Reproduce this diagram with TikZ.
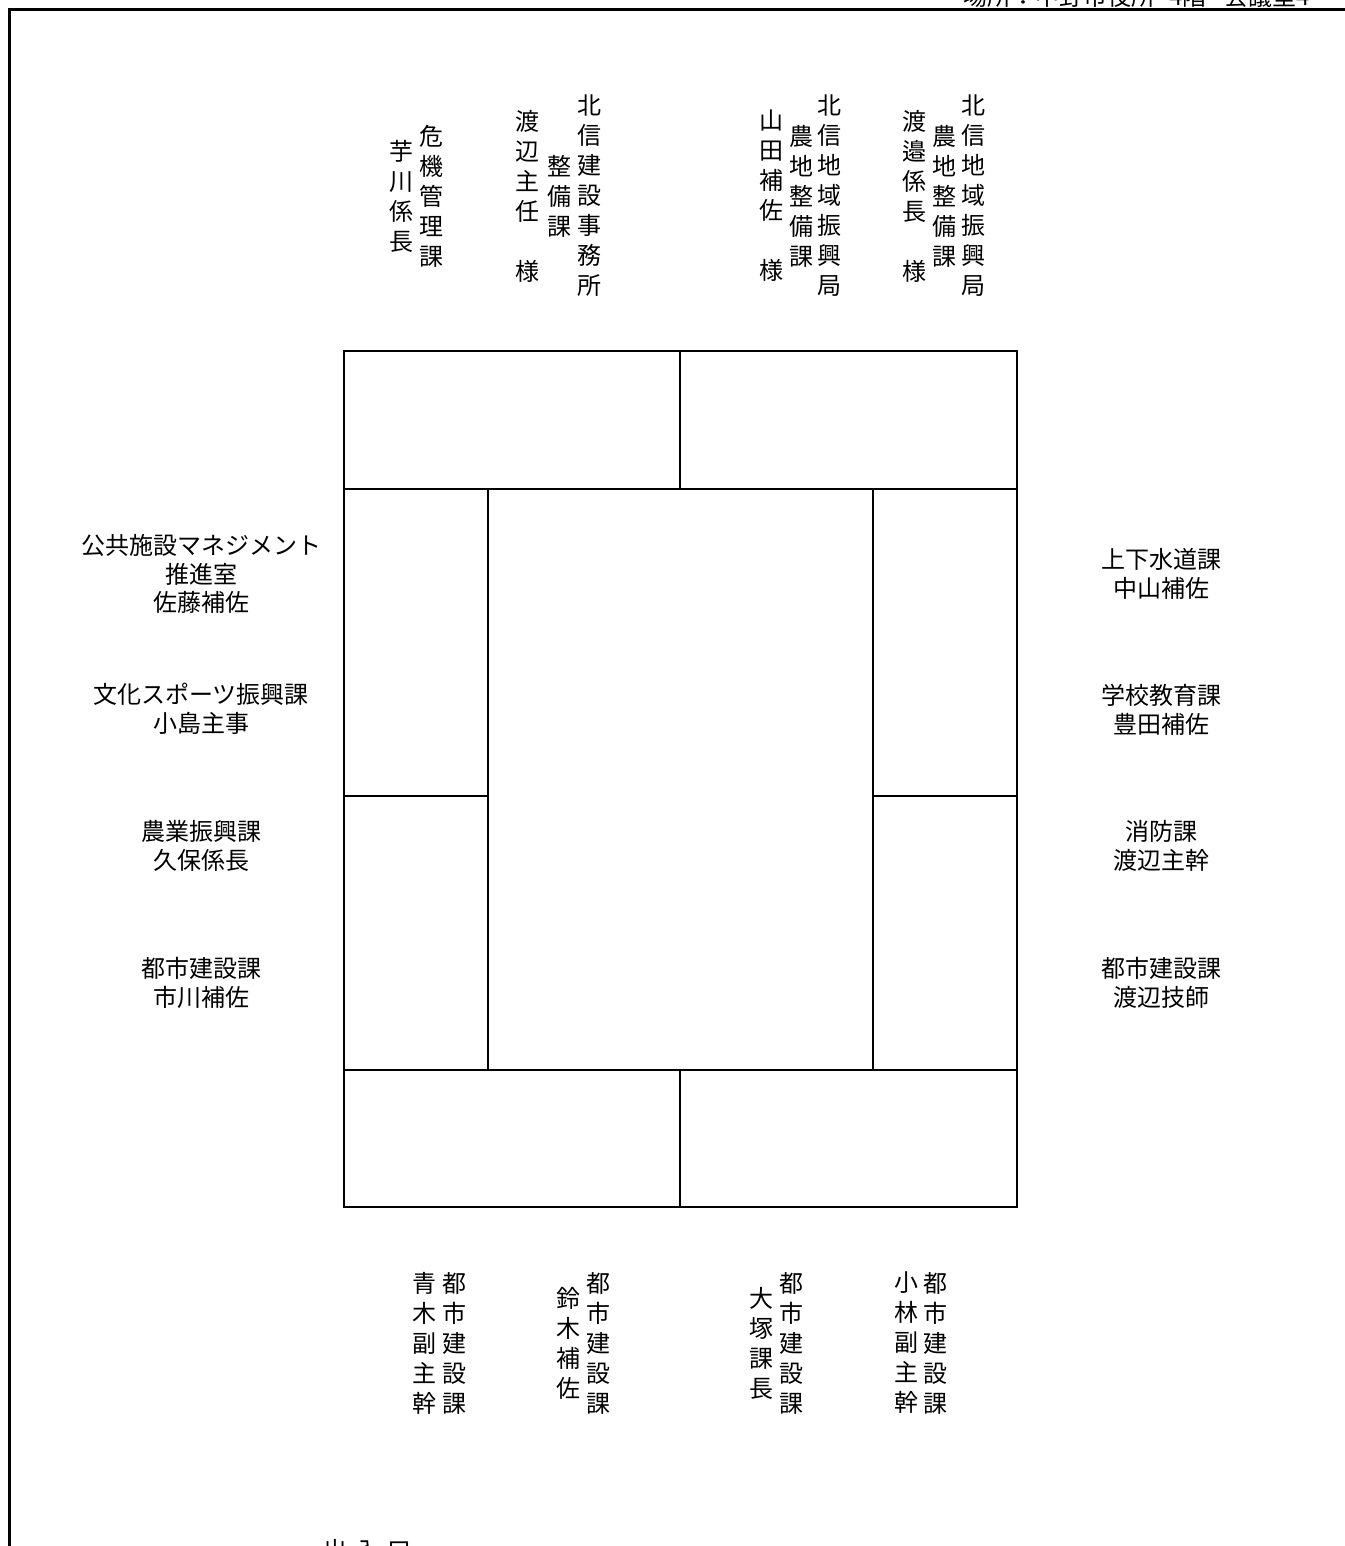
\documentclass[tikz,border=0pt]{standalone}
\usepackage{fontspec}
\setmainfont{Noto Sans CJK JP}
\usetikzlibrary{positioning}
\tikzset{
  desk/.style={draw=black, line width=2pt},
  outerline/.style={draw=black, line width=3pt},
  sidelabel/.style={align=center, inner sep=0pt, font=\fontsize{24}{28.5}\selectfont},
  vlabel/.style={align=center, inner sep=0pt, font=\fontsize{24}{30}\selectfont},
  plainlabel/.style={inner sep=0pt, font=\fontsize{24}{28}\selectfont}
}

\begin{document}
\begin{tikzpicture}[x=1pt, y=-1pt]
  \useasboundingbox (0,0) rectangle (1344,1546);

  % room outline (cut off at right and bottom)
  \draw[outerline] (9,1580) -- (9,10) -- (1380,10);
  \node[plainlabel, anchor=base west] (place) at (963,6) {場所：中野市役所\hspace{14pt}4階\hspace{18pt}会議室4};
  \node[plainlabel, anchor=base west] (door) at (323,1559) {出\hspace{8pt}入\hspace{8pt}口};

  % desks
  \draw[desk] (344,351) rectangle (680,489);
  \draw[desk] (680,351) rectangle (1017,489);
  \draw[desk] (344,489) rectangle (488,796);
  \draw[desk] (344,796) rectangle (488,1070);
  \draw[desk] (488,489) rectangle (873,1070);
  \draw[desk] (873,489) rectangle (1017,796);
  \draw[desk] (873,796) rectangle (1017,1070);
  \draw[desk] (344,1070) rectangle (680,1207);
  \draw[desk] (680,1070) rectangle (1017,1207);

  % top seats
  \node[vlabel] (kikiB) at (401,196) {芋\\川\\係\\長};
  \node[vlabel] (kikiA) at (431,196) {危\\機\\管\\理\\課};
  \node[vlabel] (kenC) at (527,196) {渡\\辺\\主\\任\\　\\様};
  \node[vlabel] (kenB) at (559,196) {整\\備\\課};
  \node[vlabel] (kenA) at (589,196) {北\\信\\建\\設\\事\\務\\所};
  \node[vlabel] (noA3) at (771,196) {山\\田\\補\\佐\\　\\様};
  \node[vlabel] (noA2) at (801,196) {農\\地\\整\\備\\課};
  \node[vlabel] (noA1) at (829,196) {北\\信\\地\\域\\振\\興\\局};
  \node[vlabel] (noB3) at (914,196) {渡\\邉\\係\\長\\　\\様};
  \node[vlabel] (noB2) at (944,196) {農\\地\\整\\備\\課};
  \node[vlabel] (noB1) at (973,196) {北\\信\\地\\域\\振\\興\\局};

  % left seats
  \node[sidelabel] (koukyo) at (201,574) {公共施設マネジメント\\推進室\\佐藤補佐};
  \node[sidelabel] (bunka) at (201,709) {文化スポーツ振興課\\小島主事};
  \node[sidelabel] (nougyo) at (201,846) {農業振興課\\久保係長};
  \node[sidelabel] (toshiL) at (201,983) {都市建設課\\市川補佐};

  % right seats
  \node[sidelabel] (gesui) at (1161,574) {上下水道課\\中山補佐};
  \node[sidelabel] (gakkou) at (1161,710) {学校教育課\\豊田補佐};
  \node[sidelabel] (shoubou) at (1161,846) {消防課\\渡辺主幹};
  \node[sidelabel] (toshiR) at (1161,983) {都市建設課\\渡辺技師};

  % bottom seats
  \node[vlabel] (aokiB) at (424,1343) {青\\木\\副\\主\\幹};
  \node[vlabel] (aokiA) at (454,1343) {都\\市\\建\\設\\課};
  \node[vlabel] (suzukiB) at (568,1343) {鈴\\木\\補\\佐};
  \node[vlabel] (suzukiA) at (598,1343) {都\\市\\建\\設\\課};
  \node[vlabel] (ootsukaB) at (761,1343) {大\\塚\\課\\長};
  \node[vlabel] (ootsukaA) at (791,1343) {都\\市\\建\\設\\課};
  \node[vlabel] (kobayashiB) at (906,1343) {小\\林\\副\\主\\幹};
  \node[vlabel] (kobayashiA) at (935,1343) {都\\市\\建\\設\\課};
\end{tikzpicture}
\end{document}
